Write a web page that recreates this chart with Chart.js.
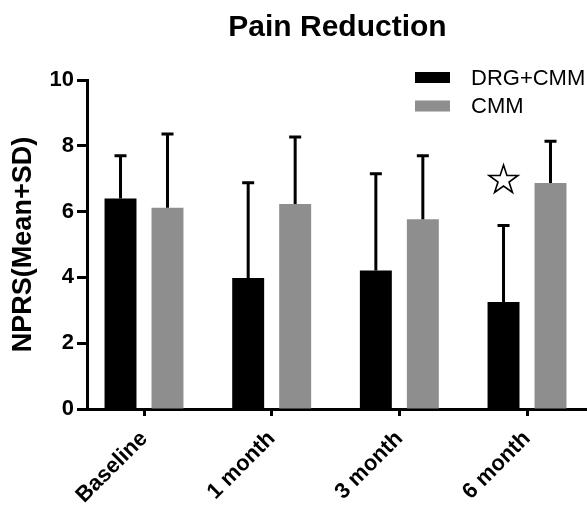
<!DOCTYPE html>
<html>
<head>
<meta charset="utf-8">
<script src="https://cdn.jsdelivr.net/npm/chart.js@4.4.1/dist/chart.umd.min.js"></script>
<style>
  html, body { margin: 0; padding: 0; background: #ffffff; }
  #wrap { width: 587px; height: 511px; position: relative; }
</style>
</head>
<body>
<div id="wrap"><canvas id="c" width="587" height="511"></canvas></div>
<script>
// Time points and NPRS scores (mean and SD) for each arm
const categories = ['Baseline', '1 month', '3 month', '6 month'];
const drgMean = [6.40, 3.98, 4.21, 3.25];
const drgSD   = [1.30, 2.90, 2.94, 2.33];
const cmmMean = [6.12, 6.23, 5.77, 6.87];
const cmmSD   = [2.24, 2.04, 1.93, 1.27];
const yTicks  = [0, 2, 4, 6, 8, 10];
// Significance marker: category index and height on the NPRS scale
const starIndex = 3;
const starLevel = 7.0;

const FONT = '"Liberation Sans", Arial, Helvetica, sans-serif';

const toPoints = arr => arr.map((v, i) => ({ x: i, y: v }));

// Upward-only SD whiskers with a cap
const errorBars = {
  id: 'errorBars',
  afterDatasetsDraw(chart) {
    const ctx = chart.ctx;
    const y = chart.scales.y;
    const sds = [drgSD, cmmSD];
    ctx.save();
    ctx.strokeStyle = '#000';
    ctx.lineWidth = 3;
    ctx.lineCap = 'butt';
    chart.data.datasets.forEach((ds, di) => {
      const meta = chart.getDatasetMeta(di);
      meta.data.forEach((bar, i) => {
        const top = y.getPixelForValue(ds.data[i].y + sds[di][i]);
        ctx.beginPath();
        ctx.moveTo(bar.x, bar.y);
        ctx.lineTo(bar.x, top);
        ctx.moveTo(bar.x - 6, top);
        ctx.lineTo(bar.x + 6, top);
        ctx.stroke();
      });
    });
    ctx.restore();
  }
};

// Title, legend and the significance star
const decorations = {
  id: 'decorations',
  afterDraw(chart) {
    const ctx = chart.ctx;
    const area = chart.chartArea;
    ctx.save();
    ctx.fillStyle = '#000';
    ctx.font = 'bold 30px ' + FONT;
    ctx.textAlign = 'center';
    ctx.textBaseline = 'alphabetic';
    ctx.fillText('Pain Reduction', (area.left + area.right) / 2 + 1, 36);

    // legend
    ctx.font = '22px ' + FONT;
    ctx.textAlign = 'left';
    ctx.textBaseline = 'middle';
    chart.data.datasets.forEach((ds, i) => {
      const cy = 77.5 + i * 28.5;
      ctx.fillStyle = ds.backgroundColor;
      ctx.fillRect(415, cy - 5.5, 35, 11);
      ctx.fillStyle = '#000';
      ctx.fillText(ds.label, 471, cy + 1);
    });

    // five-pointed outline star
    const bar = chart.getDatasetMeta(0).data[starIndex];
    const cx = bar.x;
    const cy = chart.scales.y.getPixelForValue(starLevel);
    const R = 15.2, r = R * 0.382;
    ctx.beginPath();
    for (let k = 0; k < 10; k++) {
      const rad = k % 2 === 0 ? R : r;
      const a = -Math.PI / 2 + k * Math.PI / 5;
      const px = cx + rad * Math.cos(a);
      const py = cy + 1.5 + rad * Math.sin(a);
      if (k === 0) ctx.moveTo(px, py); else ctx.lineTo(px, py);
    }
    ctx.closePath();
    ctx.lineWidth = 1.6;
    ctx.strokeStyle = '#000';
    ctx.lineJoin = 'miter';
    ctx.stroke();
    ctx.restore();
  }
};

new Chart(document.getElementById('c'), {
  type: 'bar',
  data: {
    datasets: [
      { label: 'DRG+CMM', data: toPoints(drgMean), backgroundColor: '#000000' },
      { label: 'CMM', data: toPoints(cmmMean), backgroundColor: '#8e8e8e' }
    ]
  },
  options: {
    responsive: false,
    animation: false,
    devicePixelRatio: 1,
    layout: { padding: { top: 80, right: 1, left: 0, bottom: 0 } },
    datasets: { bar: { categoryPercentage: 0.736, barPercentage: 0.68 } },
    plugins: {
      legend: { display: false },
      title: { display: false },
      tooltip: { enabled: false }
    },
    scales: {
      x: {
        type: 'linear',
        min: -0.4465,
        max: 3.462,
        offset: false,
        afterBuildTicks: s => { s.ticks = categories.map((c, i) => ({ value: i })); },
        afterFit: s => { s.height = 102; },
        border: { display: true, color: '#000', width: 3 },
        grid: { display: true, offset: false, drawOnChartArea: false, drawTicks: true, tickLength: 7, tickWidth: 3, tickColor: '#000', color: '#000' },
        ticks: {
          autoSkip: false,
          minRotation: 45,
          maxRotation: 45,
          padding: 10,
          color: '#000',
          font: { family: FONT, size: 22, weight: 'bold' },
          callback: v => categories[v]
        }
      },
      y: {
        min: 0,
        max: 10,
        afterBuildTicks: s => { s.ticks = yTicks.map(v => ({ value: v })); },
        afterFit: s => { s.width = 87; },
        border: { display: true, color: '#000', width: 3 },
        grid: { display: true, drawOnChartArea: false, drawTicks: true, tickLength: 10, tickWidth: 3, tickColor: '#000', color: '#000' },
        ticks: {
          padding: 3,
          color: '#000',
          font: { family: FONT, size: 22, weight: 'bold' }
        },
        title: {
          display: true,
          text: 'NPRS(Mean+SD)',
          color: '#000',
          padding: { top: 7, bottom: 0 },
          font: { family: FONT, size: 27, weight: 'bold' }
        }
      }
    }
  },
  plugins: [errorBars, decorations]
});
</script>
</body>
</html>
